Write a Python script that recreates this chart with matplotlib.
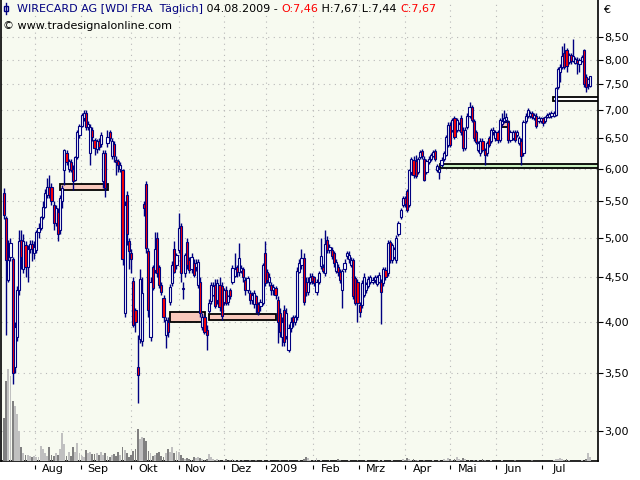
import matplotlib
matplotlib.use("Agg")
from matplotlib import pyplot as plt
from matplotlib.patches import Rectangle
from matplotlib.ticker import NullLocator
import matplotlib.transforms as mtransforms
import numpy as np

# daily candles, Jul 2008 - 04.08.2009
opens = [5.63,5.27,4.47,4.75,4.72,3.55,3.85,4.35,4.97,4.60,
         4.90,4.62,4.85,4.92,4.80,4.84,5.07,5.13,5.28,5.42,
         5.60,5.72,5.72,5.45,5.20,5.35,5.10,5.50,5.98,6.25,
         6.00,6.10,6.00,5.82,6.18,6.56,6.72,6.85,6.95,6.70,
         6.25,6.65,6.47,6.32,6.45,6.40,5.80,6.25,6.42,6.60,
         6.20,6.40,6.14,6.12,6.00,5.97,4.10,5.60,4.95,4.80,
         4.46,4.13,3.55,3.82,3.80,5.46,5.76,4.83,3.85,4.62,
         4.59,5.00,4.62,4.41,4.26,3.87,4.00,4.22,4.43,4.85,
         4.65,4.84,5.15,4.38,4.55,4.94,4.71,4.60,4.67,4.62,
         4.41,4.45,3.95,4.05,3.92,4.12,4.23,4.30,4.41,4.24,
         4.41,4.40,4.22,4.35,4.22,4.35,4.45,4.52,4.62,4.56,
         4.58,4.60,4.47,4.35,4.32,4.24,4.19,4.28,4.19,4.17,
         4.21,4.80,4.56,4.45,4.41,4.35,4.38,4.24,4.10,3.85,
         4.13,3.86,3.72,3.94,4.05,4.00,4.05,4.57,4.65,4.74,
         4.45,4.33,4.45,4.52,4.50,4.33,4.45,4.64,4.62,4.55,
         4.97,4.84,4.84,4.80,4.58,4.62,4.56,4.35,4.60,4.76,
         4.72,4.65,4.71,4.49,4.45,4.18,4.18,4.30,4.35,4.40,
         4.45,4.45,4.47,4.42,4.45,4.45,4.44,4.59,4.55,4.94,
         4.71,4.75,4.71,5.05,5.28,5.45,5.55,5.65,5.45,5.95,
         6.14,6.12,5.95,6.18,6.28,6.15,5.95,6.10,6.16,6.20,
         6.28,5.98,5.95,6.05,6.15,6.22,6.39,6.73,6.64,6.86,
         6.64,6.65,6.86,6.65,6.33,6.70,6.90,7.05,6.80,6.60,
         6.30,6.25,6.45,6.30,6.25,6.50,6.45,6.60,6.50,6.60,
         6.47,6.75,6.80,6.82,6.78,6.47,6.50,6.60,6.55,6.42,
         6.45,6.25,6.80,6.90,6.90,6.95,6.86,6.90,6.80,6.80,
         6.85,6.80,6.88,6.88,6.90,6.90,6.92,7.45,7.75,7.85,
         8.15,8.20,7.95,8.10,7.97,7.93,8.00,7.90,7.98,8.20,
         7.65,7.50,7.46]
highs = [5.70,5.30,4.97,5.00,4.75,4.00,4.40,5.10,5.10,5.05,
         4.95,4.90,4.97,4.97,4.95,5.10,5.20,5.30,5.50,5.68,
         5.85,5.90,5.78,5.50,5.45,5.40,5.60,5.75,6.32,6.30,
         6.15,6.15,6.05,6.20,6.65,6.75,6.95,7.00,7.00,6.80,
         6.75,6.70,6.50,6.48,6.50,6.60,6.30,6.30,6.65,6.65,
         6.50,6.45,6.20,6.15,6.10,6.00,5.50,5.65,5.00,4.85,
         4.50,4.15,3.87,4.60,4.50,5.50,5.80,4.86,4.50,4.65,
         5.07,5.07,4.65,4.45,4.30,4.05,4.05,4.42,4.70,4.95,
         4.80,5.33,5.20,4.45,4.80,5.00,4.75,4.80,4.72,4.72,
         4.72,4.50,4.10,4.08,3.97,4.25,4.45,4.45,4.48,4.48,
         4.50,4.45,4.38,4.40,4.30,4.38,4.65,4.80,4.65,4.93,
         4.65,4.62,4.50,4.52,4.35,4.33,4.35,4.30,4.22,4.25,
         4.68,4.95,4.60,4.55,4.45,4.42,4.40,4.28,4.15,4.05,
         4.18,4.15,3.98,4.05,4.08,4.08,4.62,4.72,4.85,4.80,
         4.50,4.50,4.55,4.55,4.52,4.48,4.58,5.00,4.66,5.10,
         5.02,4.92,4.88,4.83,4.72,4.66,4.60,4.60,4.72,4.83,
         4.82,4.75,4.74,4.52,4.48,4.22,4.47,4.55,4.45,4.52,
         4.53,4.50,4.53,4.53,4.56,4.48,4.63,4.62,4.97,4.97,
         4.93,4.88,5.03,5.23,5.40,5.58,5.58,5.68,6.00,6.18,
         6.20,6.22,6.18,6.30,6.32,6.20,6.15,6.20,6.25,6.30,
         6.32,6.08,6.02,6.18,6.28,6.56,6.78,6.78,6.86,6.90,
         6.86,6.78,6.92,6.70,6.70,6.95,7.15,7.10,6.84,6.64,
         6.46,6.50,6.50,6.34,6.46,6.54,6.68,6.70,6.65,6.64,
         6.86,6.95,7.00,6.95,6.82,6.64,6.64,6.64,6.64,6.54,
         6.50,6.82,6.94,7.04,6.98,6.98,6.94,6.94,6.90,6.88,
         6.88,6.90,6.95,6.96,6.98,6.98,7.45,7.85,7.90,8.30,
         8.35,8.25,8.15,8.15,8.45,8.05,8.05,8.03,8.10,8.23,
         7.70,7.62,7.67]
lows = [5.25,3.87,4.45,4.70,3.40,3.50,3.80,4.30,4.60,4.55,
        4.50,4.45,4.80,4.70,4.72,4.80,5.00,5.10,5.25,5.40,
        5.55,5.55,5.45,5.10,5.15,4.95,5.05,5.40,5.75,6.05,
        5.95,5.95,5.67,5.80,6.15,6.50,6.70,6.80,6.65,6.65,
        6.05,6.45,6.22,6.25,6.30,6.35,5.70,5.57,6.35,6.45,
        6.15,6.10,5.90,5.95,5.95,4.65,4.05,4.90,4.60,4.55,
        3.95,3.90,3.23,3.78,3.75,5.30,4.80,4.05,3.80,4.35,
        4.55,4.50,4.38,4.30,4.00,3.73,3.85,4.18,4.40,4.55,
        4.60,4.80,4.45,4.25,4.50,4.60,4.55,4.55,4.50,4.58,
        4.38,4.05,3.92,3.88,3.72,4.10,4.20,4.28,4.15,4.20,
        4.12,4.02,4.18,4.18,4.18,4.25,4.42,4.50,4.50,4.52,
        4.55,4.45,4.30,4.32,4.20,4.20,4.15,4.10,4.07,4.12,
        4.18,4.40,4.43,4.40,4.30,4.30,4.25,3.78,3.85,3.75,
        3.75,3.82,3.70,3.90,3.95,3.97,4.02,4.55,4.60,4.18,
        4.28,4.30,4.42,4.42,4.40,4.30,4.42,4.60,4.55,4.52,
        4.80,4.80,4.72,4.62,4.55,4.52,4.44,4.15,4.57,4.72,
        4.68,4.62,4.25,4.18,4.00,4.05,4.15,4.27,4.32,4.38,
        4.42,4.42,4.44,4.40,4.43,3.98,4.40,4.47,4.52,4.68,
        4.68,4.72,4.68,5.02,5.25,5.42,5.42,5.35,5.42,5.90,
        5.85,5.85,5.92,6.15,6.15,5.80,5.92,6.08,6.12,6.18,
        6.12,5.95,5.84,6.02,6.12,6.20,6.35,6.35,6.60,6.48,
        6.60,6.62,6.55,6.28,6.30,6.66,6.86,6.78,6.45,6.40,
        6.26,6.20,6.26,6.05,6.20,6.35,6.42,6.56,6.46,6.42,
        6.44,6.72,6.76,6.78,6.42,6.44,6.47,6.44,6.52,6.38,
        6.05,6.20,6.76,6.86,6.86,6.84,6.82,6.68,6.76,6.76,
        6.72,6.76,6.85,6.85,6.86,6.87,6.90,7.40,7.55,7.80,
        7.80,7.75,7.90,7.90,7.95,7.90,7.70,7.75,7.95,7.45,
        7.35,7.40,7.44]
closes = [5.31,4.71,4.71,4.93,3.50,3.95,4.35,4.95,4.75,4.95,
          4.62,4.85,4.92,4.85,4.88,5.07,5.13,5.28,5.42,5.63,
          5.72,5.60,5.50,5.20,5.40,5.05,5.55,5.70,6.30,6.10,
          6.12,5.98,5.80,6.18,6.60,6.72,6.91,6.95,6.70,6.75,
          6.70,6.52,6.33,6.45,6.35,6.55,6.25,5.70,6.52,6.50,
          6.45,6.20,6.10,6.05,6.05,4.72,5.45,5.05,4.82,4.72,
          3.97,4.00,3.48,4.48,4.32,5.40,4.86,4.13,4.45,4.38,
          4.85,4.55,4.41,4.33,4.05,4.02,3.90,4.39,4.65,4.57,
          4.78,5.13,4.55,4.36,4.78,4.65,4.59,4.75,4.53,4.68,
          4.69,4.10,4.05,3.90,3.87,4.21,4.41,4.40,4.17,4.43,
          4.16,4.06,4.35,4.21,4.28,4.28,4.61,4.60,4.56,4.74,
          4.61,4.50,4.35,4.49,4.24,4.30,4.32,4.19,4.11,4.22,
          4.65,4.44,4.47,4.50,4.35,4.39,4.30,4.00,3.90,4.00,
          3.79,4.10,3.94,4.00,4.00,4.05,4.58,4.68,4.74,4.22,
          4.33,4.45,4.50,4.46,4.44,4.45,4.55,4.76,4.58,4.91,
          4.84,4.88,4.76,4.67,4.69,4.56,4.47,4.58,4.68,4.80,
          4.78,4.71,4.28,4.21,4.21,4.11,4.43,4.50,4.42,4.48,
          4.50,4.47,4.50,4.50,4.53,4.33,4.60,4.50,4.93,4.71,
          4.90,4.85,5.00,5.20,5.38,5.55,5.47,5.38,5.98,6.15,
          5.90,5.88,6.15,6.26,6.20,5.82,6.12,6.16,6.22,6.27,
          6.16,6.04,5.99,6.14,6.25,6.52,6.73,6.39,6.82,6.52,
          6.82,6.75,6.60,6.33,6.65,6.90,7.05,6.82,6.50,6.43,
          6.42,6.45,6.30,6.22,6.42,6.39,6.64,6.65,6.60,6.47,
          6.82,6.80,6.85,6.88,6.47,6.60,6.60,6.47,6.60,6.50,
          6.20,6.78,6.90,7.00,6.95,6.88,6.91,6.72,6.86,6.85,
          6.76,6.87,6.92,6.93,6.95,6.95,7.42,7.80,7.85,8.08,
          7.85,7.87,8.10,7.98,8.08,8.02,7.92,8.00,8.05,7.50,
          7.45,7.60,7.67]
volumes = [43,80,92,85,60,55,47,30,14,8,
           6,6,5,4,5,4,4,15,12,8,
           5,14,6,5,8,6,12,28,17,5,
           9,5,14,9,18,8,5,4,11,8,
           9,7,7,8,6,9,6,8,5,4,
           6,7,5,9,6,14,11,8,4,6,
           10,12,32,22,24,23,20,10,8,5,
           6,8,9,5,4,8,12,9,14,8,
           10,9,6,3,2,3,2,1,4,3,
           4,3,2,1,2,7,4,2,1,2,
           1,0,1,2,0,1,2,1,0,1,
           0,1,0,0,1,0,0,1,0,0,
           1,0,0,1,0,0,0,0,1,0,
           0,0,1,0,0,0,0,1,0,2,
           4,3,1,0,1,3,0,1,0,0,
           0,1,0,0,0,2,1,0,0,0,
           1,0,0,0,1,0,0,0,1,0,
           0,0,0,0,1,0,1,0,0,0,
           1,0,0,0,0,2,1,3,2,1,
           2,1,1,0,0,1,0,0,0,1,
           0,0,1,0,2,1,3,2,1,2,
           4,2,1,3,2,0,1,0,1,0,
           1,0,2,1,0,0,1,0,0,0,
           0,1,0,0,0,0,0,1,0,0,
           0,0,0,0,0,1,0,0,0,0,
           0,0,0,0,0,1,2,2,3,2,
           1,2,1,0,0,0,0,0,1,0,
           2,8,4]

# trading-day index where each month starts
month_starts = [14.5, 35.5, 59, 81, 102, 121.5, 143.5, 164.5, 186, 207, 228.5, 249.5]
month_names = ["Aug", "Sep", "Okt", "Nov", "Dez", "2009", "Feb", "Mrz", "Apr", "Mai", "Jun", "Jul"]
price_ticks = [3.0, 3.5, 4.0, 4.5, 5.0, 5.5, 6.0, 6.5, 7.0, 7.5, 8.0, 8.5]

# marked price zones (start day, end day, low, high)
zone_start = [26, 77, 95, 230.6, 202.3, 254.8]
zone_end = [48.3, 93.3, 126.2, 234.3, 280, 280]
zone_low = [5.67, 4.00, 4.02, 6.70, 6.01, 7.17]
zone_high = [5.76, 4.11, 4.09, 6.79, 6.08, 7.24]
zone_kind = ["pink", "pink", "pink", "pink", "green", "white"]

navy = "#000080"
zone_colors = {"pink": "#F8C8BC", "green": "#C8F0C0", "white": "#FFFFFF"}

o = np.array(opens); h = np.array(highs); l = np.array(lows); c = np.array(closes)
x = np.arange(len(o))
up = c >= o

fig = plt.figure(figsize=(6.4, 4.8), dpi=100)
fig.patch.set_facecolor("white")
ax = fig.add_axes([1/640, 19/480, 597/640, 461/480])
ax.set_facecolor("#F7FAF0")
ax.set_yscale("log")

# volume at the bottom
vax = ax.twinx()
vax.bar(x, volumes, width=0.85, color=np.where(up, "#C0C0C0", "#808080"), linewidth=0)
vax.set_ylim(0, 461)
vax.set_axis_off()

# zones
for s, e, lo, hi, k in zip(zone_start, zone_end, zone_low, zone_high, zone_kind):
    ax.add_patch(Rectangle((s, lo), e - s, hi - lo, facecolor=zone_colors[k],
                           edgecolor="black", linewidth=1.3, zorder=2))

# candles
ax.vlines(x, l, h, color=navy, linewidth=1.0, zorder=3)
body_lo = np.minimum(o, c)
body_h = np.maximum(np.abs(c - o), 0.01)
ax.bar(x, body_h, bottom=body_lo, width=1.0,
       color=np.where(up, "white", "#FF0000"), edgecolor=navy, linewidth=0.8, zorder=4)

ax.set_xlim(-1.4, 275.6)
ax.set_ylim(2.771, 9.365)

ax.yaxis.tick_right()
ax.set_yticks(price_ticks)
ax.set_yticklabels([("%.2f" % p).replace(".", ",") for p in price_ticks])
ax.yaxis.set_minor_locator(NullLocator())
ax.tick_params(axis="y", direction="out", length=3.5, width=0.8, pad=1, labelsize=8)

ax.set_xticks(month_starts)
ax.set_xticklabels([])
ax.set_xticks([m + 8 for m in month_starts], minor=True)
ax.set_xticklabels(month_names, minor=True)
ax.tick_params(axis="x", which="both", length=0, labelsize=8, pad=2)
trans = mtransforms.blended_transform_factory(ax.transData, ax.transAxes)
ax.vlines(month_starts, -0.0175, -0.009, transform=trans, color="black",
          linewidth=0.8, clip_on=False)

ax.grid(True, which="major", color="#B8B8B8", linestyle=(0, (1, 4)), linewidth=0.8)
ax.set_axisbelow(True)

ax.spines["top"].set_visible(False)
for side in ["left", "right", "bottom"]:
    ax.spines[side].set_color("black")
    ax.spines[side].set_linewidth(1.2)

# header
fig.add_artist(plt.Line2D([6/640, 6/640], [1 - 14/480, 1 - 3/480], color=navy, linewidth=1))
fig.add_artist(Rectangle((4/640, 1 - 11/480), 4/640, 5/480, facecolor="white",
                         edgecolor=navy, linewidth=1))
t = fig.text(17/640, 1 - 12/480, "WIRECARD AG [WDI FRA  Täglich]", color=navy,
             fontsize=8, va="baseline", ha="left")
prev = t
for s, col in [(" 04.08.2009 - ", "black"), ("O:7,46", "red"),
               (" H:7,67 L:7,44 ", "black"), ("C:7,67", "red")]:
    prev = ax.annotate(s, xy=(1, 0), xycoords=prev, va="bottom", ha="left",
                       color=col, fontsize=8, annotation_clip=False)
fig.text(3/640, 1 - 26/480, "© www.tradesignalonline.com", fontsize=8,
         va="center", ha="left", color="black")
fig.text(603/640, 1 - 10/480, "€", fontsize=8, va="center", ha="left")

fig.savefig("out.png", dpi=100)
